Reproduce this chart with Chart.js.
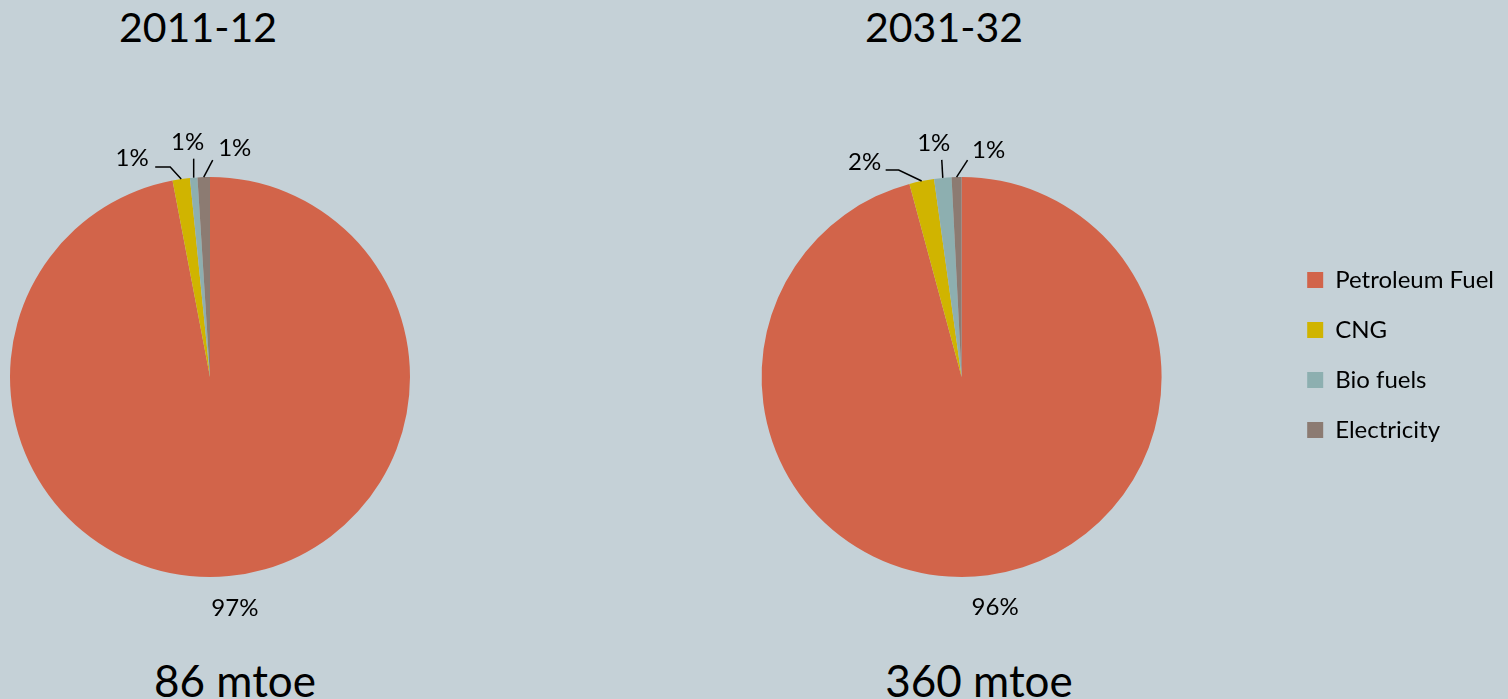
<!DOCTYPE html>
<html>
<head>
<meta charset="utf-8">
<script src="https://cdn.jsdelivr.net/npm/chart.js@4"></script>
<style>
  html, body { margin: 0; padding: 0; }
  body { width: 1508px; height: 699px; background: #C5D1D7; position: relative; overflow: hidden; font-family: 'Lato', sans-serif; }
  .txt { position: absolute; color: #000; white-space: nowrap; transform: translateX(-50%); line-height: 1; }
  .title { font-size: 41px; top: 6px; }
  .total { font-size: 44px; top: 658px; }
  canvas { position: absolute; }
</style>
</head>
<body>
<div class="txt title" style="left:198px">2011-12</div>
<div class="txt title" style="left:944px">2031-32</div>
<div class="txt total" style="left:235px">86 mtoe</div>
<div class="txt total" style="left:979px">360 mtoe</div>

<div style="position:absolute;left:0;top:100px;width:480px;height:560px"><canvas id="pieLeft"></canvas></div>
<div style="position:absolute;left:597px;top:100px;width:907px;height:560px"><canvas id="pieRight"></canvas></div>

<script>
// Datos (porcentaje de cada fuente en el consumo de energía del transporte)
const fuels = ['Petroleum Fuel', 'CNG', 'Bio fuels', 'Electricity'];
const share2011 = [97.0, 1.4, 0.6, 1.0];
const share2031 = [95.8, 2.0, 1.4, 0.8];

const fuelColors = ['#D2644A', '#D0B400', '#8DAFB0', '#8C7B72'];

// Plugin para las etiquetas de porcentaje con líneas guía
const sliceLabels = {
    id: 'sliceLabels',
    afterDatasetsDraw(chart, args, opts) {
        const ctx = chart.ctx;
        const meta = chart.getDatasetMeta(0);
        const data = chart.data.datasets[0].data;
        const total = data.reduce((a, b) => a + b, 0);
        ctx.save();
        ctx.font = '24px Lato';
        ctx.fillStyle = '#000';
        ctx.strokeStyle = '#000';
        ctx.lineWidth = 1.5;
        ctx.textAlign = 'center';
        ctx.textBaseline = 'middle';
        meta.data.forEach((arc, i) => {
            const mid = (arc.startAngle + arc.endAngle) / 2;
            const r = arc.outerRadius;
            const px = arc.x + Math.cos(mid) * r;
            const py = arc.y + Math.sin(mid) * r;
            const text = Math.round(data[i] / total * 100) + '%';
            const cfg = opts.leaders[i];
            if (!cfg) {
                ctx.fillText(text, arc.x + Math.cos(mid) * (r + 32) + 3, arc.y + Math.sin(mid) * (r + 32));
                return;
            }
            ctx.beginPath();
            ctx.moveTo(px, py);
            cfg.pts.forEach(p => ctx.lineTo(px + p[0], py + p[1]));
            ctx.stroke();
            ctx.fillText(text, px + cfg.label[0], py + cfg.label[1]);
        });
        ctx.restore();
    }
};

function makePie(id, values, leaders, showLegend, padding) {
    return new Chart(document.getElementById(id), {
        type: 'pie',
        data: {
            labels: fuels,
            datasets: [{
                data: values,
                backgroundColor: fuelColors,
                borderWidth: 0
            }]
        },
        options: {
            responsive: true,
            maintainAspectRatio: false,
            animation: false,
            layout: { padding: padding },
            plugins: {
                tooltip: { enabled: false },
                legend: {
                    display: showLegend,
                    position: 'right',
                    align: 'start',
                    title: { display: true, text: '', padding: 0, font: { size: 10, lineHeight: '65px' } },
                    labels: {
                        boxWidth: 16,
                        boxHeight: 16,
                        padding: 26,
                        color: '#000',
                        font: { family: 'Lato', size: 24 }
                    }
                },
                sliceLabels: { leaders: leaders }
            }
        },
        plugins: [sliceLabels]
    });
}

makePie('pieLeft', share2011, [
    null,
    { pts: [[-11, -12], [-26, -12]], label: [-49, -21] },
    { pts: [[0, -19]], label: [-6, -35] },
    { pts: [[9, -17]], label: [31, -29] }
], false, { left: 10, top: 77, right: 70, bottom: 83 });

makePie('pieRight', share2031, [
    null,
    { pts: [[-23, -11], [-36, -11]], label: [-57, -19] },
    { pts: [[-1, -18]], label: [-9, -35] },
    { pts: [[11, -17]], label: [32, -27] }
], true, { left: 45, top: 77, right: 0, bottom: 83 });
</script>
</body>
</html>
